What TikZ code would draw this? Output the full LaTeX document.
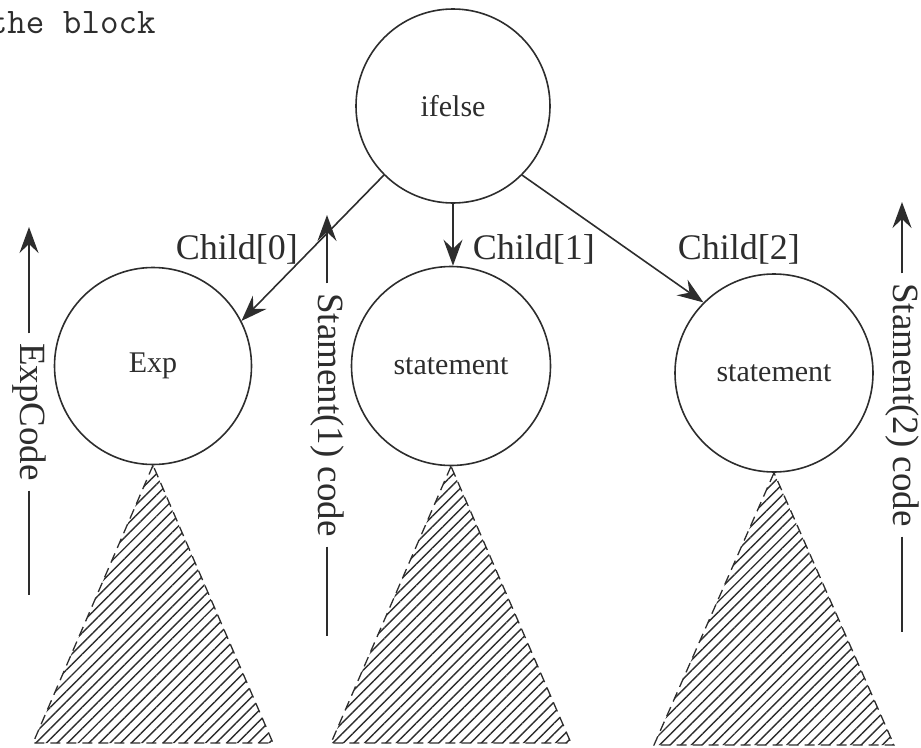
\documentclass[tikz,border=0pt]{standalone}
\usepackage{fontspec}
\setmainfont{Liberation Serif}
\usetikzlibrary{arrows.meta,patterns.meta}
\definecolor{ink}{RGB}{45,45,45}
\begin{document}
\begin{tikzpicture}[x=1pt,y=-1pt, line width=1.6pt, color=ink,
  circ/.style={circle, draw, minimum size=#1, inner sep=0pt, font=\fontsize{30}{36}\selectfont},
  edge/.style={-{Stealth[length=26pt,width=19pt,inset=9pt]}},
  lbl/.style={font=\fontsize{36}{42}\selectfont, inner sep=0pt},
  vlbl/.style={font=\fontsize{37}{44}\selectfont, rotate=-90, inner sep=9pt},
  subtree/.style={draw, dash pattern=on 10pt off 6pt, line width=1.3pt,
    pattern={Lines[angle=45,distance=7.5pt,line width=1.4pt]}, pattern color=ink}]
\useasboundingbox (0,0) rectangle (921,747);

% top-left cut text
\node[font=\ttfamily\fontsize{36}{40}\selectfont, anchor=base west, inner sep=0pt] (blk) at (-12,33) {the block};

% circles
\node[circ=194pt] (ifelse) at (453,106) {ifelse};
\node[circ=197pt] (exp) at (153,366) {Exp};
\node[circ=199pt] (st1) at (451,366) {statement};
\node[circ=198pt] (st2) at (774,373) {statement};

% child edges
\draw[edge] (ifelse.225) -- (exp.27);
\draw[edge] (ifelse.south) -- (ifelse.south |- st1.north);
\draw[edge] (ifelse.-45) -- (st2.135);

\node[lbl, anchor=base west] (c0) at (175,259) {Child[0]};
\node[lbl, anchor=base west] (c1) at (472,259) {Child[1]};
\node[lbl, anchor=base west] (c2) at (677,259) {Child[2]};

% subtrees
\coordinate (e1) at (33,743);  \coordinate (e2) at (273,743);
\coordinate (m1) at (331,743); \coordinate (m2) at (571,743);
\coordinate (r1) at (654,745); \coordinate (r2) at (894,745);
\draw[subtree] (exp.south) -- (e1) -- (e2) -- cycle;
\draw[subtree] (st1.south) -- (m1) -- (m2) -- cycle;
\draw[subtree] (st2.south) -- (r1) -- (r2) -- cycle;

% code range labels
\node[vlbl] (ec) at (29,412) {ExpCode};
\coordinate (ectop) at (29,227); \coordinate (ecbot) at (29,595);
\draw[edge] (ec.west) -- (ectop);
\draw (ec.east) -- (ecbot);

\node[vlbl] (s1) at (327,415) {Stament(1) code};
\coordinate (s1top) at (327,215); \coordinate (s1bot) at (327,636);
\draw[edge] (s1.west) -- (s1top);
\draw (s1.east) -- (s1bot);

\node[vlbl] (s2) at (902,405) {Stament(2) code};
\coordinate (s2top) at (902,202); \coordinate (s2bot) at (902,632);
\draw[edge] (s2.west) -- (s2top);
\draw (s2.east) -- (s2bot);
\end{tikzpicture}
\end{document}
